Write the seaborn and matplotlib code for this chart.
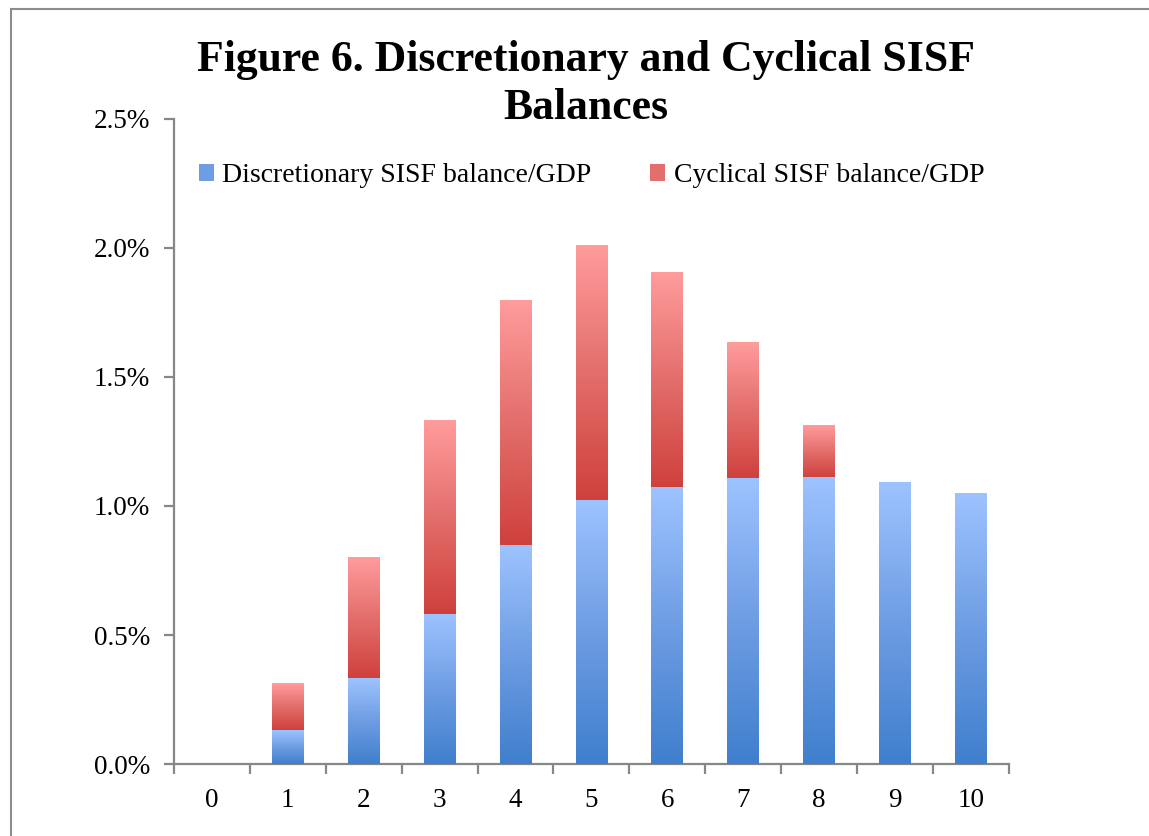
import numpy as np
import pandas as pd
import seaborn as sns
import matplotlib
matplotlib.use("agg")
import matplotlib.pyplot as plt
from matplotlib.colors import LinearSegmentedColormap
from matplotlib.lines import Line2D
from matplotlib.patches import Patch
from matplotlib.ticker import FuncFormatter

# data (percent of GDP)
periods = ['0', '1', '2', '3', '4', '5', '6', '7', '8', '9', '10']
discretionary = [0.0, 0.13, 0.33, 0.58, 0.845, 1.02, 1.07, 1.105, 1.11, 1.09, 1.05]
cyclical = [0.0, 0.18, 0.47, 0.75, 0.95, 0.99, 0.835, 0.53, 0.205, 0.0, 0.0]
y_ticks = [0.0, 0.5, 1.0, 1.5, 2.0, 2.5]
labels = ['Discretionary SISF balance/GDP', 'Cyclical SISF balance/GDP']
title = 'Figure 6. Discretionary and Cyclical SISF\nBalances'

sns.set_theme(style='white')
plt.rcParams['font.family'] = ['Liberation Serif', 'DejaVu Serif']
plt.rcParams['text.color'] = 'black'
plt.rcParams['xtick.labelcolor'] = 'black'
plt.rcParams['ytick.labelcolor'] = 'black'

axis_grey = '#878787'
blues = LinearSegmentedColormap.from_list('blues', ['#3f7fcd', '#6e9de3', '#9dc3ff'])
reds = LinearSegmentedColormap.from_list('reds', ['#cf403c', '#e36e6b', '#ff9c9c'])

df = pd.DataFrame({'period': periods, 'disc': discretionary, 'cyc': cyclical})
df['total'] = df['disc'] + df['cyc']

fig = plt.figure(figsize=(11.49, 8.36), dpi=100)
ax = fig.add_axes([0.1514, 0.0861, 0.7267, 0.7716])

sns.barplot(data=df, x='period', y='total', color='#e36e6b', width=0.42, ax=ax)
n_red = len(ax.patches)
sns.barplot(data=df, x='period', y='disc', color='#6e9de3', width=0.42, ax=ax)
red_bars = ax.patches[:n_red]
blue_bars = ax.patches[n_red:]

# gradient fills, dark at the bottom of each segment
grad = np.linspace(0, 1, 256).reshape(-1, 1)
for bar, lo in zip(red_bars, df['disc']):
    bar.set_facecolor('none')
    bar.set_edgecolor('none')
    x0, w, top = bar.get_x(), bar.get_width(), bar.get_height()
    if top - lo > 1e-9:
        ax.imshow(grad, cmap=reds, extent=(x0, x0 + w, lo, top), origin='lower',
                  aspect='auto', zorder=3)
for bar in blue_bars:
    bar.set_facecolor('none')
    bar.set_edgecolor('none')
    x0, w, top = bar.get_x(), bar.get_width(), bar.get_height()
    if top > 1e-9:
        ax.imshow(grad, cmap=blues, extent=(x0, x0 + w, 0, top), origin='lower',
                  aspect='auto', zorder=3)

ax.set_xlim(-0.5, len(periods) - 0.5)
ax.set_ylim(0, 2.5)
ax.set_yticks(y_ticks)
ax.yaxis.set_major_formatter(FuncFormatter(lambda v, p: '{:.1f}%'.format(v)))
ax.set_xticks(np.arange(-0.5, len(periods), 1.0), minor=True)
ax.set_xlabel('')
ax.set_ylabel('')

for s in ['top', 'right']:
    ax.spines[s].set_visible(False)
for s in ['left', 'bottom']:
    ax.spines[s].set_color(axis_grey)
    ax.spines[s].set_linewidth(1.6)

ax.tick_params(axis='y', which='major', direction='out', length=7, width=1.6,
               color=axis_grey, labelsize=19.5, pad=10, left=True)
ax.tick_params(axis='x', which='major', length=0, labelsize=19.5, pad=17)
ax.tick_params(axis='x', which='minor', direction='out', length=7, width=1.6,
               color=axis_grey, bottom=True)

handles = [Patch(facecolor='#6e9de3', edgecolor='none'),
           Patch(facecolor='#e36e6b', edgecolor='none')]
ax.legend(handles, labels, loc='center', bbox_to_anchor=(0.5, 0.912), ncol=2,
          frameon=False, fontsize=20, handlelength=0.55, handleheight=0.55,
          handletextpad=0.3, columnspacing=2.1)

fig.text(0.51, 0.899, title, ha='center', va='center', fontsize=31.5,
         fontweight='bold', linespacing=1.26)

# outer chart frame (cut off on the right and bottom)
fig.add_artist(Line2D([11 / 1149, 11 / 1149], [1 - 9 / 836, 0], transform=fig.transFigure,
                      color='#8c8c8c', lw=1.5))
fig.add_artist(Line2D([11 / 1149, 1], [1 - 9 / 836, 1 - 9 / 836], transform=fig.transFigure,
                      color='#8c8c8c', lw=1.5))

fig.savefig('out.png', dpi=100)
plt.close()
